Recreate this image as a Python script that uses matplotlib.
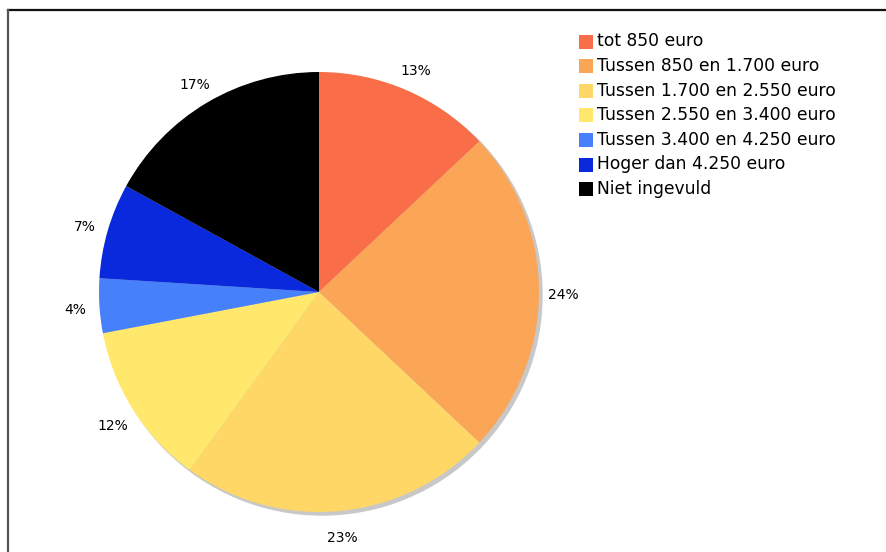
import matplotlib.pyplot as plt
from matplotlib.patches import Rectangle, Circle
from matplotlib.lines import Line2D
from matplotlib.transforms import ScaledTranslation

# income brackets and share of respondents (%)
categories = [
    "tot 850 euro",
    "Tussen 850 en 1.700 euro",
    "Tussen 1.700 en 2.550 euro",
    "Tussen 2.550 en 3.400 euro",
    "Tussen 3.400 en 4.250 euro",
    "Hoger dan 4.250 euro",
    "Niet ingevuld",
]
shares = [13, 24, 23, 12, 4, 7, 17]
colors = ["#F96E48", "#FBA556", "#FED766", "#FFE86C", "#4680FA", "#0A28DC", "#000000"]

W, H = 887, 552
fig = plt.figure(figsize=(W / 100, H / 100), dpi=100)
fig.patch.set_facecolor("white")

# pie centre and radius in pixels
cx, cy, r = 319, 292, 220
ax = fig.add_axes([(cx - r) / W, (H - cy - r) / H, 2 * r / W, 2 * r / H])
ax.axis("off")

# soft drop shadow behind the pie
off = 3 / r
shadow = Circle((off, -off), 1.0, color="#c8c8c8", zorder=0)
shadow.set_clip_on(False)
ax.add_patch(shadow)

wedges, texts = ax.pie(
    shares, colors=colors, startangle=90, counterclock=False,
    labels=[f"{v}%" for v in shares], labeldistance=1.11,
    radius=1.0, wedgeprops=dict(linewidth=0),
    textprops=dict(fontsize=10, family="DejaVu Sans", color="#000000"),
)
for w in wedges:
    w.set_zorder(1)
    w.set_clip_on(False)
ax.set_xlim(-1, 1)
ax.set_ylim(-1, 1)
ax.set_aspect("equal")
nudge = ScaledTranslation(0, -3 / 100, fig.dpi_scale_trans)
for t in texts:
    t.set_clip_on(False)
    t.set_ha("center")
    t.set_va("center")
    t.set_transform(t.get_transform() + nudge)

# frame lines along top and left edge
fig.add_artist(Line2D([8.5 / W, 1], [1 - 9.5 / H, 1 - 9.5 / H], transform=fig.transFigure,
                      color="#111111", lw=1.6))
fig.add_artist(Line2D([8.5 / W, 8.5 / W], [0, 1 - 9.5 / H], transform=fig.transFigure,
                      color="#555555", lw=1.6))

# legend
lx, ly0, dy = 579, 41.5, 24.6
for i, (lab, c) in enumerate(zip(categories, colors)):
    y = ly0 + i * dy
    fig.add_artist(Rectangle((lx / W, 1 - (y + 7) / H), 14 / W, 14 / H,
                             transform=fig.transFigure, color=c, lw=0))
    fig.text((lx + 18) / W, 1 - y / H, lab, fontsize=12.3, va="center", ha="left",
             family="DejaVu Sans", color="#000000")

fig.savefig("out.png", dpi=100)
